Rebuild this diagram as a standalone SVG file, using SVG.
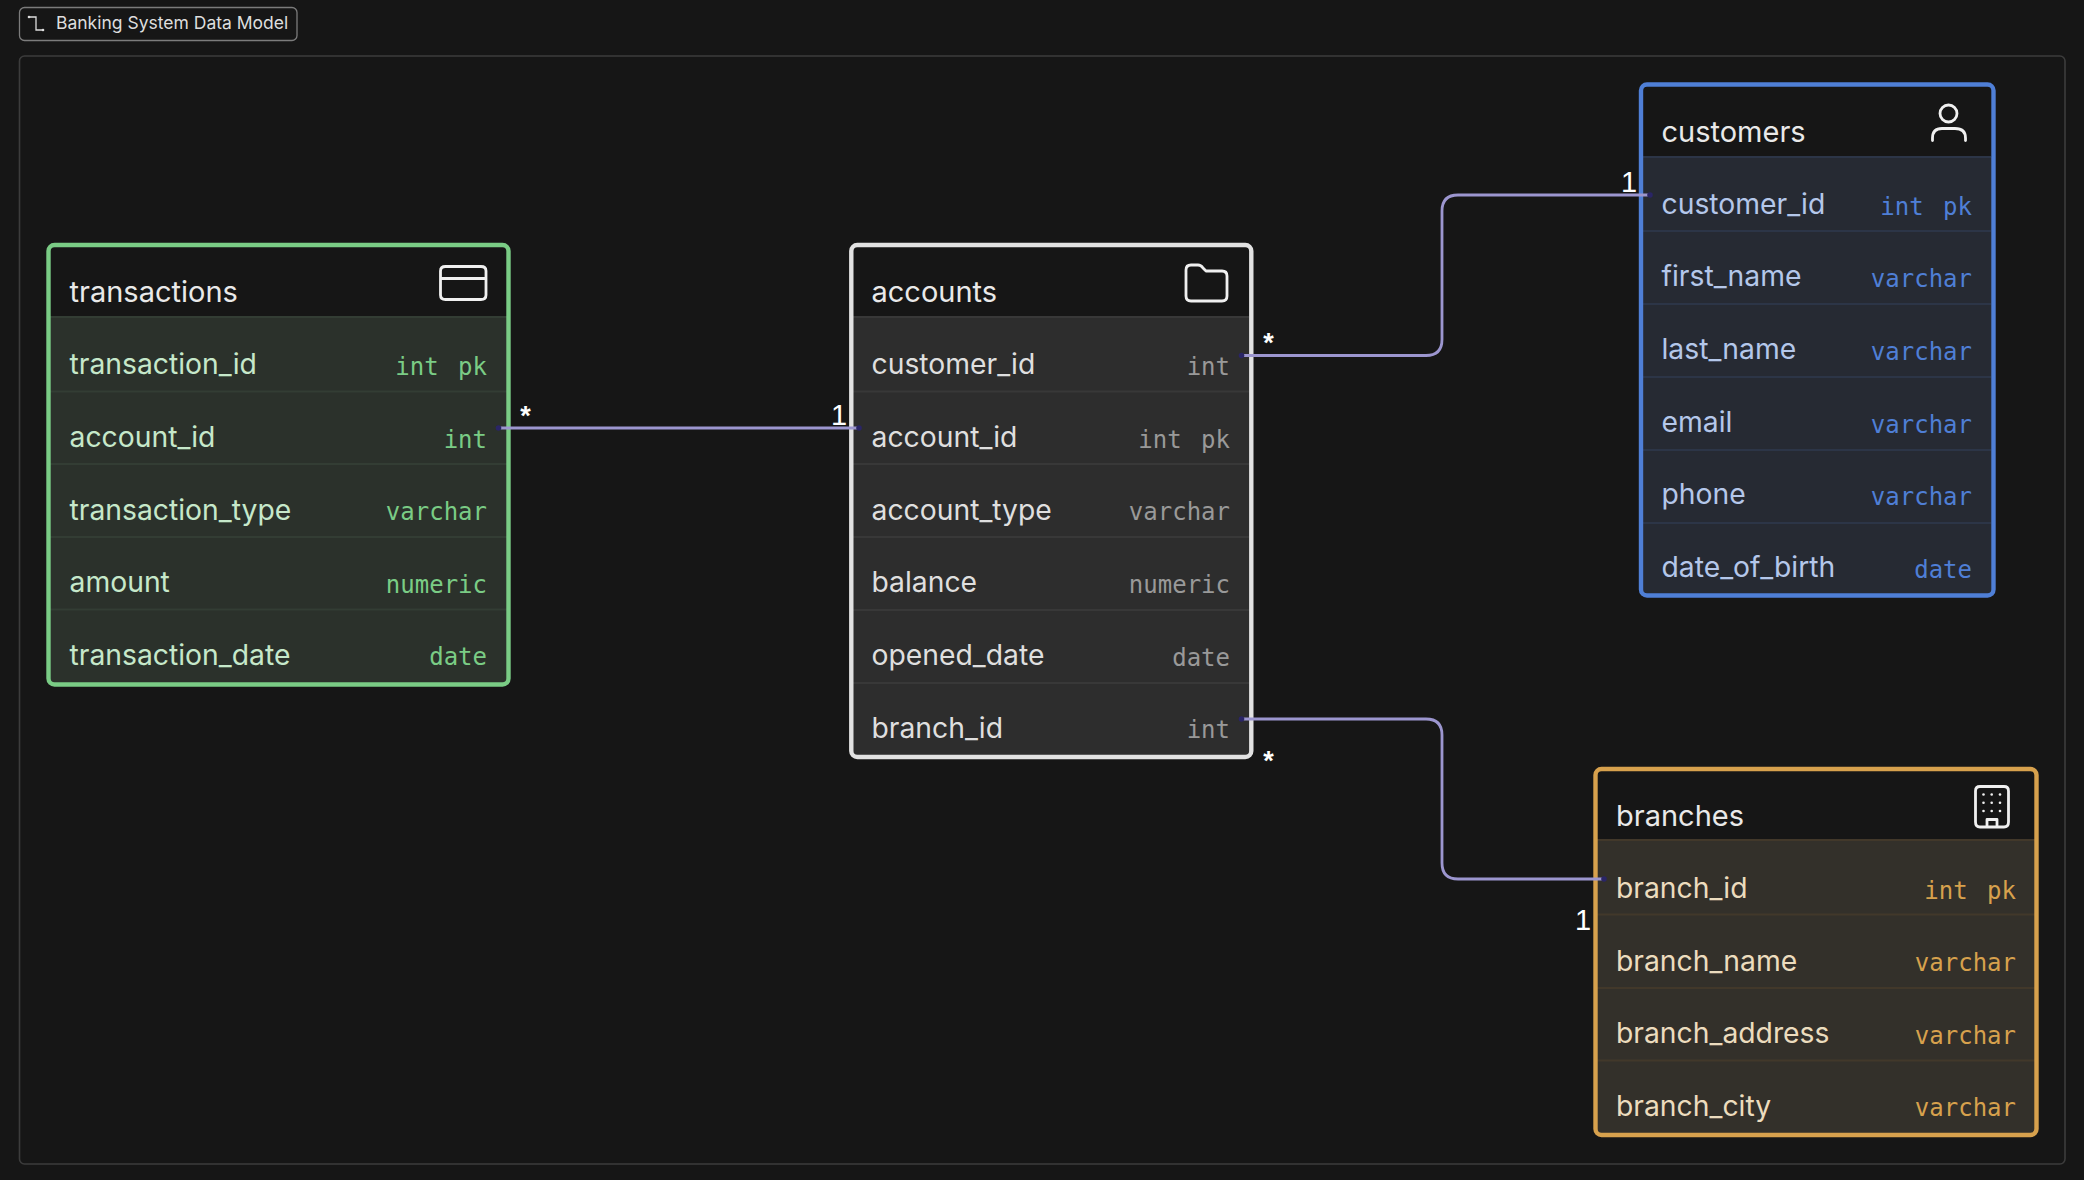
<svg xmlns="http://www.w3.org/2000/svg" width="2084" height="1180" viewBox="0 0 2084 1180">
<style>
text{font-family:Inter,"Liberation Sans",sans-serif}
.title{font-size:29px;fill:#e9e9e9}
.name{font-size:28.3px}
.type{font-family:"DejaVu Sans Mono","Liberation Mono",monospace;font-size:24px;text-anchor:end}
.card{fill:none;stroke-width:4.4}
.sep{stroke-width:2;fill:none}
.icon{fill:none;stroke:#f0f0f0;stroke-width:2.8;stroke-linecap:round;stroke-linejoin:round}
.g .card{stroke:#7acc85}.g .row{fill:#2b312b}.g .sep{stroke:#333d34}.g .name{fill:#c6e8ca}.g .type{fill:#7acc85}
.w .card{stroke:#e2e2e2}.w .row{fill:#2d2d2d}.w .sep{stroke:#383838}.w .name{fill:#dfdfdf}.w .type{fill:#999}
.b .card{stroke:#4f7fd6}.b .row{fill:#262a33}.b .sep{stroke:#2c3547}.b .name{fill:#b4c7ea}.b .type{fill:#4f7fd6}
.o .card{stroke:#d7a14d}.o .row{fill:#33302a}.o .sep{stroke:#42382a}.o .name{fill:#ecdcbe}.o .type{fill:#d7a14d}
.conn{fill:none;stroke:#9c96cf;stroke-width:2.8}
.tip{fill:#2a2566}
.one{font-family:"Liberation Sans",sans-serif;font-size:29px;fill:#fff}
.star{font-family:"Liberation Sans",sans-serif;font-weight:700;font-size:27px;fill:#fff;text-anchor:middle}
</style>
<rect width="2084" height="1180" fill="#161616"/>
<rect x="19.500" y="56" width="2045.500" height="1108" rx="5" fill="none" stroke="#3c3c3c" stroke-width="1.600"/>
<g id="title">
<rect x="19.500" y="7.500" width="277.500" height="33" rx="5" fill="#161616" stroke="#7c7c7c" stroke-width="1.300"/>
<path d="M29 17H36V30H43" fill="none" stroke="#ddd" stroke-width="1.300"/>
<circle cx="29" cy="17" r="1.300" fill="#ddd"/><circle cx="43" cy="30" r="1.300" fill="#ddd"/>
<text x="56" y="29" font-size="17.500" fill="#dedede">Banking System Data Model</text>
</g>
<g id="transactions" class="g">
<rect class="row" x="48.500" y="317" width="460" height="368"/>
<path class="sep" d="M50 317H507M50 391.500H507M50 464H507M50 537H507M50 609.500H507"/>
<rect class="card" x="48.500" y="245" width="460" height="439.500" rx="6"/>
<text class="title" x="69.500" y="302">transactions</text>
<path class="icon" d="M445.500 266.500H481Q486 266.500 486 271V295Q486 299.500 481 299.500H445.500Q440.500 299.500 440.500 295V271Q440.500 266.500 445.500 266.500ZM440.500 278.500H486"/>
<text class="name" x="69.500" y="374">transaction_id</text><text class="type" x="487" y="375">int<tspan dx="5"> pk</tspan></text>
<text class="name" x="69.500" y="447">account_id</text><text class="type" x="487" y="448">int</text>
<text class="name" x="69.500" y="519.500">transaction_type</text><text class="type" x="487" y="520">varchar</text>
<text class="name" x="69.500" y="592">amount</text><text class="type" x="487" y="593">numeric</text>
<text class="name" x="69.500" y="664.500">transaction_date</text><text class="type" x="487" y="665">date</text>
</g>
<g id="accounts" class="w">
<rect class="row" x="851.300" y="317" width="400" height="440"/>
<path class="sep" d="M853 317H1249M853 391.500H1249M853 464H1249M853 537H1249M853 610H1249M853 683H1249"/>
<rect class="card" x="851.300" y="245" width="400" height="512" rx="6"/>
<text class="title" x="871.500" y="302">accounts</text>
<path class="icon" d="M1191 265H1198Q1201 265 1203 268L1206 271H1222Q1227 271 1227 276V296Q1227 301 1222 301H1191Q1186 301 1186 296V270Q1186 265 1191 265Z"/>
<text class="name" x="871.500" y="374">customer_id</text><text class="type" x="1230" y="375">int</text>
<text class="name" x="871.500" y="447">account_id</text><text class="type" x="1230" y="448">int<tspan dx="5"> pk</tspan></text>
<text class="name" x="871.500" y="519.500">account_type</text><text class="type" x="1230" y="520">varchar</text>
<text class="name" x="871.500" y="592">balance</text><text class="type" x="1230" y="593">numeric</text>
<text class="name" x="871.500" y="665">opened_date</text><text class="type" x="1230" y="665.500">date</text>
<text class="name" x="871.500" y="737.500">branch_id</text><text class="type" x="1230" y="738">int</text>
</g>
<g id="customers" class="b">
<rect class="row" x="1641" y="157" width="352.500" height="439"/>
<path class="sep" d="M1643 157H1991M1643 231H1991M1643 304H1991M1643 377H1991M1643 450H1991M1643 523H1991"/>
<rect class="card" x="1641" y="84.500" width="352.500" height="511" rx="6"/>
<text class="title" x="1661.500" y="141.500">customers</text>
<g class="icon"><circle cx="1948.500" cy="113.500" r="8.500"/><path d="M1932.500 140.500V138Q1932.500 128.500 1942 128.500H1955Q1965.500 128.500 1965.500 138V140.500"/></g>
<text class="name" x="1661.500" y="213.500">customer_id</text><text class="type" x="1972" y="214.500">int<tspan dx="5"> pk</tspan></text>
<text class="name" x="1661.500" y="286">first_name</text><text class="type" x="1972" y="287">varchar</text>
<text class="name" x="1661.500" y="359">last_name</text><text class="type" x="1972" y="360">varchar</text>
<text class="name" x="1661.500" y="431.500">email</text><text class="type" x="1972" y="432.500">varchar</text>
<text class="name" x="1661.500" y="504">phone</text><text class="type" x="1972" y="505">varchar</text>
<text class="name" x="1661.500" y="577">date_of_birth</text><text class="type" x="1972" y="578">date</text>
</g>
<g id="branches" class="o">
<rect class="row" x="1595.500" y="840" width="441" height="295"/>
<path class="sep" d="M1597 840H2035M1597 914.500H2035M1597 988H2035M1597 1060.500H2035"/>
<rect class="card" x="1595.500" y="769" width="441" height="366" rx="6"/>
<text class="title" x="1616" y="826">branches</text>
<path class="icon" d="M1980 786.500H2004Q2008.500 786.500 2008.500 791V822Q2008.500 827 2004 827H1980Q1975.500 827 1975.500 822V791Q1975.500 786.500 1980 786.500ZM1987 827V819.500H1997V827"/>
<g fill="#f0f0f0"><circle cx="1983.500" cy="794.500" r="1.300"/><circle cx="1991.700" cy="794.500" r="1.300"/><circle cx="2000" cy="794.500" r="1.300"/><circle cx="1983.500" cy="802.700" r="1.300"/><circle cx="1991.700" cy="802.700" r="1.300"/><circle cx="2000" cy="802.700" r="1.300"/><circle cx="1983.500" cy="811" r="1.300"/><circle cx="1991.700" cy="811" r="1.300"/><circle cx="2000" cy="811" r="1.300"/></g>
<text class="name" x="1616" y="898">branch_id</text><text class="type" x="2016" y="898.500">int<tspan dx="5"> pk</tspan></text>
<text class="name" x="1616" y="970.500">branch_name</text><text class="type" x="2016" y="971">varchar</text>
<text class="name" x="1616" y="1042.500">branch_address</text><text class="type" x="2016" y="1043.500">varchar</text>
<text class="name" x="1616" y="1115.500">branch_city</text><text class="type" x="2016" y="1116">varchar</text>
</g>
<g id="connectors">
<path class="conn" d="M499 428H857"/>
<path class="conn" d="M1242 355.500H1426Q1442 355.500 1442 339.500V211Q1442 195 1458 195H1648"/>
<path class="conn" d="M1242 719H1426Q1442 719 1442 735V863Q1442 879 1458 879H1602"/>
<circle class="tip" cx="498.500" cy="428" r="2.800"/><circle class="tip" cx="859" cy="428" r="2.800"/><circle class="tip" cx="1241.500" cy="355.500" r="2.800"/><circle class="tip" cx="1650" cy="195" r="2.800"/><circle class="tip" cx="1241.500" cy="719" r="2.800"/><circle class="tip" cx="1604" cy="879" r="2.800"/>
<text class="star" x="525.500" y="425">*</text>
<text class="one" x="831" y="425">1</text>
<text class="star" x="1268.500" y="352">*</text>
<text class="one" x="1621" y="192">1</text>
<text class="star" x="1268.500" y="770">*</text>
<text class="one" x="1575" y="930">1</text>
</g>
</svg>
